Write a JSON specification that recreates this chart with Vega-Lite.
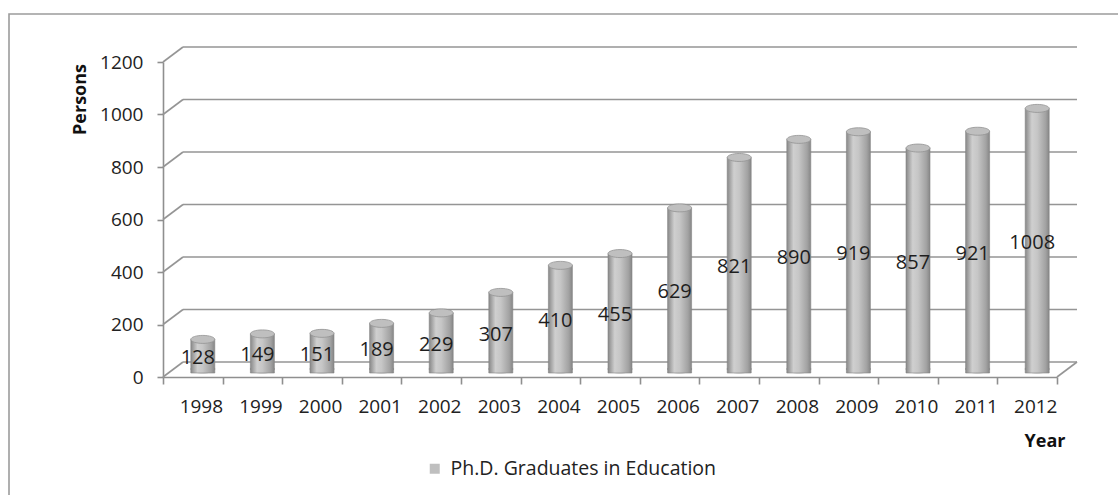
{
  "$schema": "https://vega.github.io/schema/vega-lite/v6.json",
  "width": 1115,
  "height": 490,
  "autosize": "none",
  "padding": {"left": 9, "top": 14, "right": 0, "bottom": 0},
  "background": "white",
  "config": {
    "view": {"stroke": "#9c9c9c", "strokeWidth": 1.6},
    "font": "Open Sans"
  },
  "datasets": {
    "grads": [
      {"year": 1998, "persons": 128},
      {"year": 1999, "persons": 149},
      {"year": 2000, "persons": 151},
      {"year": 2001, "persons": 189},
      {"year": 2002, "persons": 229},
      {"year": 2003, "persons": 307},
      {"year": 2004, "persons": 410},
      {"year": 2005, "persons": 455},
      {"year": 2006, "persons": 629},
      {"year": 2007, "persons": 821},
      {"year": 2008, "persons": 890},
      {"year": 2009, "persons": 919},
      {"year": 2010, "persons": 857},
      {"year": 2011, "persons": 921},
      {"year": 2012, "persons": 1008}
    ],
    "grid": [
      {"level": 0}, {"level": 200}, {"level": 400}, {"level": 600},
      {"level": 800}, {"level": 1000}, {"level": 1200}
    ]
  },
  "layer": [
    {
      "layer": [
        {
          "description": "back-wall gridlines",
          "data": {"name": "grid"},
          "mark": {"type": "rule", "stroke": "#959595", "strokeWidth": 1.6, "xOffset": 20, "x2Offset": 20, "yOffset": -15},
          "encoding": {
            "x": {"datum": 1998, "type": "ordinal", "bandPosition": 0},
            "x2": {"datum": 2012, "bandPosition": 1},
            "y": {"field": "level", "type": "quantitative"}
          }
        },
        {
          "description": "side-wall depth strokes at each tick",
          "data": {"name": "grid"},
          "mark": {"type": "rule", "stroke": "#959595", "strokeWidth": 1.6, "x2Offset": 20, "y2Offset": -15},
          "encoding": {
            "x": {"datum": 1998, "type": "ordinal", "bandPosition": 0},
            "x2": {"datum": 1998, "bandPosition": 0},
            "y": {"field": "level", "type": "quantitative"},
            "y2": {"field": "level"}
          }
        },
        {
          "description": "floor depth stroke at the right end",
          "data": {"name": "grid"},
          "transform": [{"filter": "datum.level == 0"}],
          "mark": {"type": "rule", "stroke": "#959595", "strokeWidth": 1.6, "x2Offset": 20, "y2Offset": -15},
          "encoding": {
            "x": {"datum": 2012, "type": "ordinal", "bandPosition": 1},
            "x2": {"datum": 2012, "bandPosition": 1},
            "y": {"field": "level", "type": "quantitative"},
            "y2": {"field": "level"}
          }
        },
        {
          "description": "rounded cylinder bottoms",
          "data": {"name": "grads"},
          "mark": {
            "type": "point", "filled": true, "size": 576, "xOffset": 10, "yOffset": -8,
            "shape": "M-1,0A1,0.333 0 1,1 1,0A1,0.333 0 1,1 -1,0Z",
            "stroke": "#858585", "strokeWidth": 0.6, "opacity": 1,
            "fill": {"gradient": "linear", "x1": 0, "y1": 0, "x2": 1, "y2": 0,
              "stops": [
                {"offset": 0, "color": "#888888"}, {"offset": 0.28, "color": "#cfcfcf"},
                {"offset": 0.5, "color": "#c6c6c6"}, {"offset": 0.85, "color": "#a2a2a2"},
                {"offset": 1, "color": "#868686"}]}
          },
          "encoding": {
            "x": {"field": "year", "type": "ordinal"},
            "y": {"datum": 0, "type": "quantitative"}
          }
        },
        {
          "description": "cylinder bodies",
          "data": {"name": "grads"},
          "mark": {
            "type": "bar", "width": 24, "xOffset": 10, "yOffset": -4, "y2Offset": -8,
            "stroke": "#858585", "strokeWidth": 0.6,
            "fill": {"gradient": "linear", "x1": 0, "y1": 0, "x2": 1, "y2": 0,
              "stops": [
                {"offset": 0, "color": "#888888"}, {"offset": 0.28, "color": "#cfcfcf"},
                {"offset": 0.5, "color": "#c6c6c6"}, {"offset": 0.85, "color": "#a2a2a2"},
                {"offset": 1, "color": "#868686"}]}
          },
          "encoding": {
            "x": {
              "field": "year", "type": "ordinal",
              "scale": {"range": [154, 1048], "paddingInner": 0, "paddingOuter": 0},
              "axis": {
                "title": "Year", "offset": -127, "tickBand": "extent", "labelOffset": 29.8, "labelAngle": 0,
                "domainColor": "#8f8f8f", "domainWidth": 1.6, "tickColor": "#8f8f8f", "tickWidth": 1.6,
                "tickSize": 7, "labelPadding": 22, "labelFontSize": 19, "labelColor": "#222222",
                "labelFont": "Open Sans", "grid": false,
                "titleFont": "Open Sans", "titleFontSize": 18, "titleFontWeight": "bold", "titleColor": "#111111",
                "titleX": 1056, "titleY": 64, "titleAlign": "right", "titleBaseline": "middle"
              }
            },
            "y": {
              "field": "persons", "type": "quantitative",
              "scale": {"domain": [0, 1200], "range": [363, 48], "nice": false, "zero": true},
              "axis": {
                "title": "Persons", "values": [0, 200, 400, 600, 800, 1000, 1200], "format": "d", "offset": -154,
                "domainColor": "#8f8f8f", "domainWidth": 1.6, "tickColor": "#8f8f8f", "tickWidth": 1.6,
                "tickSize": 6, "labelPadding": 14, "labelFontSize": 19, "labelColor": "#222222",
                "labelFont": "Open Sans", "labelFlush": false, "labelOverlap": false, "grid": false,
                "titleFont": "Open Sans", "titleFontSize": 18, "titleFontWeight": "bold", "titleColor": "#111111",
                "titleX": -83, "titleY": 85, "titleAngle": -90, "titleAlign": "center", "titleBaseline": "middle"
              }
            }
          }
        },
        {
          "description": "cylinder tops",
          "data": {"name": "grads"},
          "mark": {
            "type": "point", "filled": true, "size": 576, "xOffset": 10, "yOffset": -4,
            "shape": "M-1,0A1,0.333 0 1,1 1,0A1,0.333 0 1,1 -1,0Z",
            "stroke": "#939393", "strokeWidth": 0.8, "opacity": 1
          },
          "encoding": {
            "x": {"field": "year", "type": "ordinal"},
            "y": {"field": "persons", "type": "quantitative"},
            "fill": {
              "datum": "Ph.D. Graduates in Education",
              "scale": {"range": ["#bfbfbf"]},
              "legend": {
                "orient": "none", "legendX": 416, "legendY": 445, "title": null,
                "symbolType": "square", "symbolSize": 100, "symbolStrokeWidth": 0,
                "symbolFillColor": "#b5b5b5", "labelLimit": 0,
                "labelFont": "Open Sans", "labelFontSize": 19.5, "labelColor": "#222222", "labelOffset": 6
              }
            }
          }
        }
      ]
    },
    {
      "description": "value labels at half bar height",
      "data": {"name": "grads"},
      "mark": {"type": "text", "dx": 5, "dy": -2, "fontSize": 20, "font": "Open Sans", "color": "#1e1e1e", "baseline": "middle", "align": "center"},
      "encoding": {
        "x": {"field": "year", "type": "ordinal"},
        "y": {"field": "persons", "type": "quantitative", "axis": null,
          "scale": {"domain": [0, 2400], "range": [363, 48], "nice": false}},
        "text": {"field": "persons", "type": "quantitative"}
      }
    }
  ],
  "resolve": {"scale": {"y": "independent"}}
}
